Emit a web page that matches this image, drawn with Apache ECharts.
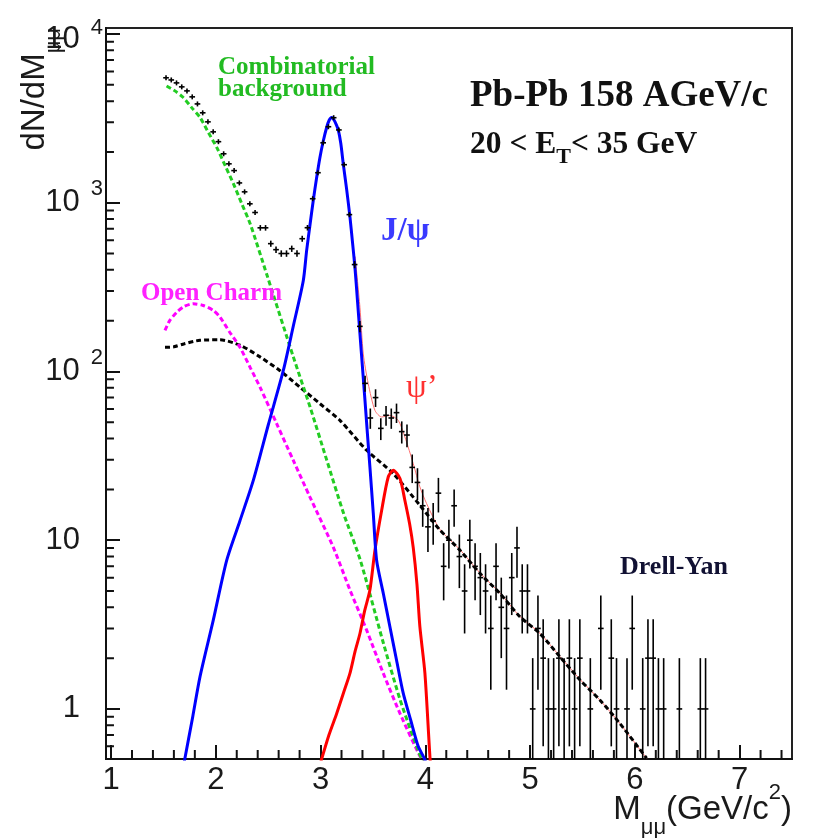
<!DOCTYPE html>
<html><head><meta charset="utf-8">
<script src="https://cdn.jsdelivr.net/npm/echarts@6/dist/echarts.min.js"></script>
<style>html,body{margin:0;padding:0;background:#fff}#c{width:835px;height:838px}</style>
</head><body><div id="c"></div>
<script>
// ---- data points (dimuon mass bins) ----
const binCenters = [1.525,1.575,1.625,1.675,1.725,1.775,1.825,1.875,1.925,1.975,
2.025,2.075,2.125,2.175,2.225,2.275,2.325,2.375,2.425,2.475,
2.525,2.575,2.625,2.675,2.725,2.775,2.825,2.875,2.925,2.975,
3.025,3.075,3.125,3.175,3.225,3.275,3.325,3.375,3.425,3.475,
3.525,3.575,3.625,3.675,3.725,3.775,3.825,3.875,3.925,3.975,
4.025,4.075,4.125,4.175,4.225,4.275,4.325,4.375,4.425,4.475,
4.525,4.575,4.625,4.675,4.725,4.775,4.825,4.875,4.925,4.975,
5.025,5.075,5.125,5.175,5.225,5.275,5.325,5.375,5.425,5.475,
5.575,5.675,5.775,5.825,5.925,5.975,6.075,6.125,6.175,6.225,
6.275,6.425,6.625,6.675];
const counts = [5500,5340,5130,4860,4600,4240,3850,3410,3015,2630,
2300,1950,1700,1550,1310,1160,985,875,710,710,
572,527,500,500,534,500,612,711,1056,1506,
2265,2820,3190,2700,1680,850,430,185,85,53,
70,46,55,53,57,44,42,27,22,16,
12,13,19,7,10,16,8,5,10,7,
6,5,3,7,4,3,6,9,5,5,
1,3,2,1,1,2,1,2,1,2,
1,3,2,1,1,3,1,2,2,1,
1,1,1,1];
const countErrors = [74,73,72,70,68,65,62,58,55,51,
48,44,41,39,36,34,31,30,27,27,
24,23,22,22,23,22,25,27,32,39,
48,53,56,52,41,29,21,14,9.2,7.3,
8.4,6.8,7.4,7.3,7.5,6.6,6.5,5.2,4.7,4.0,
3.5,3.6,4.4,2.6,3.2,4.0,2.8,2.2,3.2,2.6,
2.4,2.2,1.7,2.6,2.0,1.7,2.4,3.0,2.2,2.2,
1,1.7,1.4,1,1,1.4,1,1.4,1,1.4,
1,1.7,1.4,1,1,1.7,1,1.4,1.4,1,
1,1,1,1];

// ---- fitted components ----
const jpsiX = [1.70,1.78,1.849,1.976,2.104,2.23,2.358,2.50,2.644,2.74,2.835,2.867,2.898,2.930,2.962,2.994,3.026,3.058,3.082,3.106,3.13,3.150,3.169,3.193,3.217,3.249,3.281,3.304,3.328,3.352,3.376,3.400,3.424,3.447,3.471,3.503,3.535,3.60,3.662,3.725,3.789,3.86,3.932,3.996,4.01];
const jpsiY = [0.49,0.9,1.55,3.36,7.6,13,22.6,48,101,186,345,520,730,1028,1400,1854,2320,2790,3080,3200,3080,2900,2700,2250,1694,1200,819,590,414,265,167,106,67.4,43,27.2,14.5,7.6,4.8,3.07,1.95,1.24,0.86,0.60,0.50,0.45];
const psi2X = [3.00,3.08,3.154,3.22,3.281,3.33,3.376,3.42,3.471,3.519,3.583,3.646,3.694,3.758,3.805,3.85,3.885,3.92,3.948,3.996,4.044,4.06];
const psi2Y = [0.48,0.70,0.94,1.25,1.63,2.2,2.8,3.8,5.06,8.7,15,23.7,26,23.2,17.2,12.5,9.0,5.5,3.07,1.63,0.52,0.40];
const combX = [1.53,1.61,1.69,1.77,1.85,1.93,2.01,2.09,2.17,2.25,2.33,2.49,2.74,2.90,3.06,3.22,3.38,3.60,3.76,3.93,4.0];
const combY = [4920,4600,4200,3660,3200,2600,2120,1656,1290,980,745,370,122,61.5,29.7,14.4,7.6,2.45,1.13,0.57,0.45];
const charmX = [1.515,1.56,1.627,1.70,1.785,1.88,1.976,2.04,2.13,2.231,2.33,2.422,2.581,2.740,2.899,3.121,3.281,3.440,3.598,3.758,3.932,4.0];
const charmY = [175,200,224,243,252,246,230,210,172,139,105,80.7,49,29.7,18.0,9.1,5.06,2.93,1.63,0.94,0.55,0.46];
const dyX = [1.515,1.60,1.70,1.849,2.040,2.231,2.422,2.613,2.803,2.994,3.185,3.440,3.694,3.948,4.139,4.330,4.521,4.712,4.903,5.094,5.284,5.475,5.666,5.857,6.112];
const dyY = [139,140,146,153,154,143,122,101,80.7,64.4,51.3,34.1,24.8,16.1,11.5,8.73,6.36,4.84,3.52,2.80,2.04,1.49,1.13,0.82,0.51];
const totalX = [3.33,3.376,3.408,3.455,3.519,3.583,3.662,3.741,3.805,3.885,3.948,4.012,4.139,4.330,4.521,4.712,4.903,5.094,5.284,5.475,5.666,5.857,6.112];
const totalY = [480,240,127,84.6,58.8,53.7,54.9,51.3,40.9,28.4,20.7,16.5,11.6,8.8,6.4,4.86,3.53,2.81,2.05,1.5,1.13,0.82,0.51];

// ---- axes ----
const xMin = 0.952, xMax = 7.5, yMin = 0.505, yMax = 10850;
const xTickValues = [1,2,3,4,5,6,7];
const xTickLabels = ['1','2','3','4','5','6','7'];
const xMinorTicks = [1.2,1.4,1.6,1.8,2.2,2.4,2.6,2.8,3.2,3.4,3.6,3.8,4.2,4.4,4.6,4.8,5.2,5.4,5.6,5.8,6.2,6.4,6.6,6.8,7.2,7.4];
const yTickValues = [1,10,100,1000,10000];
const yTickBase = ['1','10','10','10','10'];
const yTickExp = ['','','2','3','4'];
const yMinorTicks = [0.6,0.7,0.8,0.9,2,3,4,5,6,7,8,9,20,30,40,50,60,70,80,90,200,300,400,500,600,700,800,900,2000,3000,4000,5000,6000,7000,8000,9000];

const SANS = 'Liberation Sans', SERIF = 'Liberation Serif', INK = '#1a1a1a';
const halfBin = 0.027;
const yMinorTickLen = 0.076; // in x units (about 8 px)

function pairs(xs, ys){ return xs.map((x,i)=>[x, ys[i]]); }
function curve(name, xs, ys, color, dashed, width, z){
  return {type:'line', name, data: pairs(xs, ys), showSymbol:false, symbol:'none', smooth:0.25,
    lineStyle:{color, width, type: dashed ? [5,3] : 'solid'}, z, silent:true, clip:true};
}

// short horizontal segments for the log-axis minor ticks, separated by gaps
const yMinorSegments = [];
yMinorTicks.forEach(v => { yMinorSegments.push([xMin, v], [xMin + yMinorTickLen, v], '-'); });

const chart = echarts.init(document.getElementById('c'), null, {renderer:'canvas'});
chart.setOption({
  animation:false,
  backgroundColor:'#ffffff',
  textStyle:{fontFamily:SANS},
  grid:{left:106, top:28, right:43, bottom:79, containLabel:false, outerBoundsMode:'none',
        show:true, borderColor:'#222', borderWidth:2},
  xAxis:{type:'value', min:xMin, max:xMax,
    axisLine:{show:true, onZero:false, lineStyle:{color:'#111', width:2}},
    axisTick:{show:true, inside:true, length:14, customValues:xTickValues, lineStyle:{color:'#111', width:2}},
    axisLabel:{show:true, customValues:xTickValues, margin:6, fontSize:31, fontFamily:SANS, color:INK,
      formatter:(v)=>{ const i = xTickValues.indexOf(Math.round(v)); return i>=0 ? xTickLabels[i] : ''; }},
    splitLine:{show:false}, minorTick:{show:false}},
  yAxis:{type:'log', logBase:10, min:yMin, max:yMax,
    axisLine:{show:true, lineStyle:{color:'#111', width:2}},
    axisTick:{show:true, inside:true, length:14, lineStyle:{color:'#111', width:2}},
    axisLabel:{show:true, margin:3, showMinLabel:false, showMaxLabel:false,
      formatter:(v)=>{
        const i = yTickValues.findIndex(t => Math.abs(t - v) < 1e-6 * t);
        if (i < 0) return '';
        if (!yTickExp[i]) return '{p|' + yTickBase[i] + '}';
        if (i === yTickValues.length - 1) return '{nt|' + yTickBase[i] + '}{st|' + yTickExp[i] + '}';
        return '{n|' + yTickBase[i] + '}{s|' + yTickExp[i] + '}';
      },
      rich:{
        p:{fontSize:31, lineHeight:31, fontFamily:SANS, color:INK, padding:[0,23,0,0]},
        n:{fontSize:31, lineHeight:31, fontFamily:SANS, color:INK},
        s:{fontSize:22, lineHeight:22, fontFamily:SANS, color:INK, padding:[0,0,28,11]},
        nt:{fontSize:31, lineHeight:31, fontFamily:SANS, color:INK, padding:[10,0,0,0]},
        st:{fontSize:22, lineHeight:22, fontFamily:SANS, color:INK, padding:[0,0,13,11]}
      }},
    splitLine:{show:false}, minorTick:{show:false}},
  series:[
    curve('Total', totalX, totalY, '#ff7070', false, 1, 2),
    curve('Drell-Yan', dyX, dyY, '#000000', true, 3, 3),
    curve('Open Charm', charmX, charmY, '#ff00ff', true, 3, 3),
    curve('Combinatorial', combX, combY, '#22cc22', true, 3, 3),
    curve('psi prime', psi2X, psi2Y, '#ff0000', false, 3, 4),
    curve('J/psi', jpsiX, jpsiY, '#0000ff', false, 3, 4),
    // log-axis minor ticks drawn as short line segments
    {type:'line', name:'yMinor', data: yMinorSegments, showSymbol:false, symbol:'none', smooth:false,
      connectNulls:false, silent:true, clip:false, z:20,
      lineStyle:{color:'#111', width:2, type:'solid'}},
    // data with error bars
    {type:'custom', name:'Data', silent:true, clip:true, z:10,
      data: binCenters.map((x,i)=>[x, counts[i], countErrors[i]]),
      encode:{x:0, y:1},
      renderItem:(p, api)=>{
        const x = api.value(0), y = api.value(1), e = api.value(2);
        const c = api.coord([x, y]);
        const l = api.coord([x - halfBin, y]);
        const r = api.coord([x + halfBin, y]);
        const t = api.coord([x, y + e]);
        const lowVal = (y - e) > 0.01 ? (y - e) : yMin * 0.5;
        const b = api.coord([x, lowVal]);
        const yt = Math.min(t[1], c[1] - 2.5), yb = Math.max(b[1], c[1] + 2.5);
        return {type:'group', children:[
          {type:'line', shape:{x1:l[0], y1:c[1], x2:r[0], y2:c[1]}, style:{stroke:'#000', lineWidth:1.6}},
          {type:'line', shape:{x1:c[0], y1:yt, x2:c[0], y2:yb}, style:{stroke:'#000', lineWidth:1.6}}
        ]};
      }},
    // minor ticks of the x axis
    {type:'custom', name:'xMinor', silent:true, clip:false, z:20,
      data: xMinorTicks.map(v=>[v, 10]), encode:{x:0, y:1},
      renderItem:(p, api)=>{
        const c = api.coord([api.value(0), api.value(1)]);
        const y0 = p.coordSys.y + p.coordSys.height;
        return {type:'line', shape:{x1:c[0], y1:y0, x2:c[0], y2:y0-9}, style:{stroke:'#111', lineWidth:2}}; }}
  ],
  graphic:[
    {type:'text', x:35, y:28, rotation:Math.PI/2, z:50,
      style:{text:'{a|dN/dM}{b|μμ}', align:'right', verticalAlign:'middle',
        rich:{a:{fontSize:33, lineHeight:33, fontFamily:SANS, fill:INK},
              b:{fontSize:22, lineHeight:22, fontFamily:SANS, fill:INK, padding:[38,0,0,0]}}}},
    {type:'text', x:792, y:810, z:50,
      style:{text:'{a|M}{b|μμ}{a|(GeV/c}{c|2}{a|)}', align:'right', verticalAlign:'middle',
        rich:{a:{fontSize:33, lineHeight:33, fontFamily:SANS, fill:INK},
              b:{fontSize:22, lineHeight:22, fontFamily:SANS, fill:INK, padding:[36,0,0,0]},
              c:{fontSize:22, lineHeight:22, fontFamily:SANS, fill:INK, padding:[0,0,34,0]}}}},
    {type:'text', x:218, y:57, z:50,
      style:{text:'Combinatorial\nbackground', fill:'#22bb22', fontSize:25, fontWeight:'bold', fontFamily:SERIF,
        lineHeight:22, align:'left', verticalAlign:'top'}},
    {type:'text', x:470, y:96, z:50,
      style:{text:'Pb-Pb 158 AGeV/c', fill:'#111', fontSize:37, fontWeight:'bold', fontFamily:SERIF,
        align:'left', verticalAlign:'middle'}},
    {type:'text', x:470, y:145, z:50,
      style:{text:'{m|20 < E}{t|T}{m|< 35 GeV}', align:'left', verticalAlign:'middle',
        rich:{m:{fontSize:31.5, lineHeight:31, fontWeight:'bold', fontFamily:SERIF, fill:'#111'},
              t:{fontSize:22, lineHeight:22, fontWeight:'bold', fontFamily:SERIF, fill:'#111', padding:[24,0,0,0]}}}},
    {type:'text', x:381, y:231, z:50,
      style:{text:'J/ψ', fill:'#3a3aff', fontSize:33, fontWeight:'bold', fontFamily:SERIF, align:'left', verticalAlign:'middle'}},
    {type:'text', x:406, y:388, z:50,
      style:{text:'ψ’', fill:'#ff3030', fontSize:33, fontFamily:SERIF, align:'left', verticalAlign:'middle'}},
    {type:'text', x:141, y:294, z:50,
      style:{text:'Open Charm', fill:'#ff22ff', fontSize:25, fontWeight:'bold', fontFamily:SERIF, align:'left', verticalAlign:'middle'}},
    {type:'text', x:620, y:567, z:50,
      style:{text:'Drell-Yan', fill:'#111133', fontSize:26, fontWeight:'bold', fontFamily:SERIF, align:'left', verticalAlign:'middle'}}
  ]
});
</script>
</body></html>
